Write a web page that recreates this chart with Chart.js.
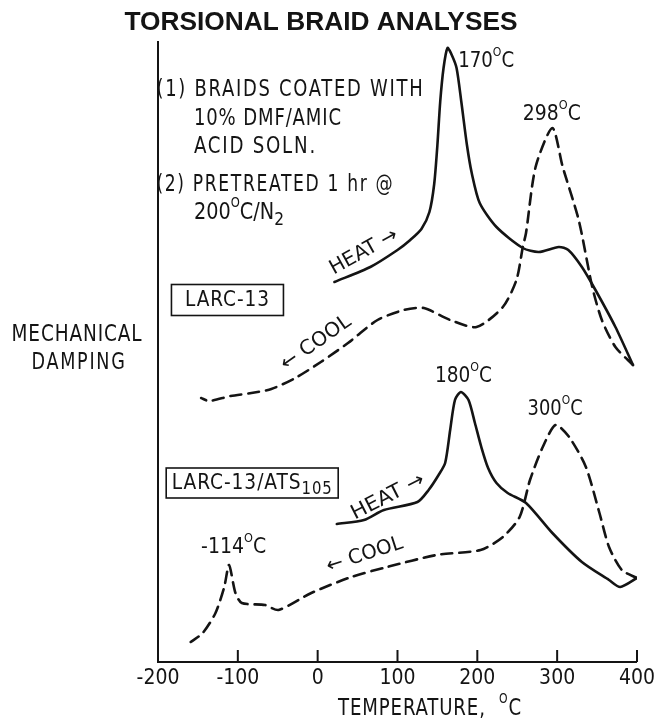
<!DOCTYPE html>
<html>
<head>
<meta charset="utf-8">
<script src="https://cdn.jsdelivr.net/npm/chart.js@4.4.1/dist/chart.umd.min.js"></script>
<style>
    html, body { margin: 0; padding: 0; background: #fff; }
    #wrap { width: 659px; height: 723px; position: relative; }
</style>
</head>
<body>
<div id="wrap"><canvas id="mychart"></canvas></div>
<script>
// temperature (deg C) and damping (arbitrary units)
var heat1Temp = [21, 66, 100, 116, 130, 140, 146, 150, 153.5, 157.7, 162.7, 168, 174, 180, 187, 193, 203, 224, 257, 277, 302, 314, 331, 348, 373, 395];
var heat1Damp = [380, 395, 412, 422, 433, 450, 478, 517, 560, 594, 614, 607, 594, 560, 517, 489, 459, 435, 414, 410, 415, 412, 395, 372, 335, 297];

var cool1Temp = [395, 373, 356, 344, 327, 307, 294, 273, 261, 257, 249, 232, 199, 166, 133, 108, 75, 38, 4, -28, -58, -83, -109, -136, -146];
var cool1Damp = [297, 315, 342, 375, 442, 495, 534, 495, 429, 415, 382, 355, 335, 342, 354, 352, 342, 319, 300, 284, 273, 269, 266, 261, 264];

var heat2Temp = [24, 58, 83, 125, 139, 151.5, 159.7, 166, 172, 179.5, 189, 197, 205, 213.5, 224, 238, 261, 294, 331, 365, 379, 400];
var heat2Damp = [138, 142, 152, 160, 172, 187, 199, 232, 262, 270, 262, 239, 215, 194, 179, 169, 159, 129, 100, 82, 75, 84];

var cool2Temp = [400, 381, 365, 353, 336, 315, 298, 282, 266, 253, 232, 204, 149, 87, 42, -8, -49, -66, -95, -103, -111, -117, -128, -144, -159];
var cool2Damp = [84, 92, 115, 149, 195, 225, 237, 215, 182, 145, 125, 112, 107, 95, 85, 69, 52, 57, 59, 69, 97, 75, 49, 29, 20];

var tempTicks = [-200, -100, 0, 100, 200, 300, 400];

const INK = '#141414';
const FONT = "'Liberation Sans Narrow', 'DejaVu Sans Condensed', 'Liberation Sans', sans-serif";
const TITLE_FONT = "'Liberation Sans', Arial, sans-serif";

// labels on the plot: x/y in data units, w = printed width in px
var notes = [
    { t: '(1) BRAIDS COATED WITH', x: -202, y: 572, w: 268, size: 23, sp: 2 },
    { t: '10% DMF/AMIC', x: -155, y: 543, w: 148, size: 23, sp: 1 },
    { t: 'ACID SOLN.', x: -155, y: 515, w: 123, size: 23, sp: 2 },
    { t: '(2) PRETREATED 1 hr @', x: -202, y: 477, w: 238, size: 23, sp: 2 },
    { t: '200^{O}C/N_{2}', x: -155, y: 449, w: 90, size: 23 },
    { t: '170^{O}C', x: 176, y: 600, w: 56, size: 21 },
    { t: '298^{O}C', x: 257, y: 547, w: 58, size: 21 },
    { t: '180^{O}C', x: 147, y: 285, w: 57, size: 21 },
    { t: '300^{O}C', x: 263, y: 252, w: 55, size: 21 },
    { t: '-114^{O}C', x: -146, y: 114, w: 65, size: 21 },
    { t: 'HEAT \u2192', x: 58, y: 410, w: 75, size: 20, rot: -29, center: true },
    { t: '\u2190 COOL', x: -2, y: 319, w: 81, size: 20, rot: -35, center: true },
    { t: 'HEAT \u2192', x: 88, y: 165, w: 80, size: 20, rot: -27, center: true },
    { t: '\u2190 COOL', x: 59, y: 107, w: 79, size: 20, rot: -18, center: true }
];

var boxes = [
    { t: 'LARC-13', x: -113, y: 362, w: 112, h: 31, tw: 85, size: 22 },
    { t: 'LARC-13/ATS_{105}', x: -82, y: 179, w: 172, h: 30, tw: 161, size: 22 }
];

function pts(xs, ys) {
    return xs.map((v, i) => ({ x: v, y: ys[i] }));
}

function parseRich(str) {
    return str.split(/(\^\{[^}]*\}|_\{[^}]*\})/).filter(Boolean).map(p => {
        if (p[0] === '^') return { t: p.slice(2, -1), dy: -0.42, k: 0.6 };
        if (p[0] === '_') return { t: p.slice(2, -1), dy: 0.3, k: 0.8 };
        return { t: p, dy: 0, k: 1 };
    });
}

// draws text at the current origin, stretched to the given width
function drawRich(ctx, str, size, width, center, weight, spacing, family) {
    const segs = parseRich(str);
    const fam = family || FONT;
    ctx.letterSpacing = (spacing || 0) + 'px';
    let total = 0;
    segs.forEach(s => {
        ctx.font = (weight || '') + ' ' + (size * s.k) + 'px ' + fam;
        s.w = ctx.measureText(s.t).width;
        total += s.w;
    });
    ctx.save();
    ctx.scale(width ? width / total : 1, 1);
    let cx = center ? -total / 2 : 0;
    segs.forEach(s => {
        ctx.font = (weight || '') + ' ' + (size * s.k) + 'px ' + fam;
        ctx.fillText(s.t, cx, s.dy * size);
        cx += s.w;
    });
    ctx.restore();
    ctx.letterSpacing = '0px';
}

const paperText = {
    id: 'paperText',
    afterDraw(chart) {
        const ctx = chart.ctx;
        const xs = chart.scales.x, ys = chart.scales.y;
        ctx.save();
        ctx.fillStyle = INK;
        ctx.strokeStyle = INK;
        ctx.textBaseline = 'middle';

        // tick marks stand up from the axis
        ctx.lineWidth = 2;
        xs.ticks.forEach(t => {
            if (t.value === xs.min) return;
            const px = xs.getPixelForValue(t.value);
            ctx.beginPath();
            ctx.moveTo(px, ys.bottom);
            ctx.lineTo(px, ys.bottom - 12);
            ctx.stroke();
        });

        // title
        ctx.save();
        ctx.translate(321, 23);
        drawRich(ctx, 'TORSIONAL BRAID ANALYSES', 26, 393, true, 'bold', 0, TITLE_FONT);
        ctx.restore();

        // axis titles
        ctx.save();
        ctx.translate(77, 335);
        drawRich(ctx, 'MECHANICAL', 23, 131, true, '', 1);
        ctx.restore();
        ctx.save();
        ctx.translate(79, 363);
        drawRich(ctx, 'DAMPING', 23, 95, true, '', 2);
        ctx.restore();
        ctx.save();
        ctx.translate(338, 709);
        drawRich(ctx, 'TEMPERATURE,  ^{O}C', 23, 184, false, '', 1);
        ctx.restore();

        notes.forEach(n => {
            ctx.save();
            ctx.translate(xs.getPixelForValue(n.x), ys.getPixelForValue(n.y));
            if (n.rot) ctx.rotate(n.rot * Math.PI / 180);
            drawRich(ctx, n.t, n.size, n.w, n.center, '', n.sp);
            ctx.restore();
        });

        ctx.lineWidth = 1.6;
        boxes.forEach(b => {
            const cx = xs.getPixelForValue(b.x), cy = ys.getPixelForValue(b.y);
            ctx.strokeRect(cx - b.w / 2, cy - b.h / 2, b.w, b.h);
            ctx.save();
            ctx.translate(cx, cy);
            drawRich(ctx, b.t, b.size, b.tw, true, '', 1);
            ctx.restore();
        });
        ctx.restore();
    }
};

const lineStyle = {
    showLine: true,
    pointRadius: 0,
    borderColor: INK,
    borderWidth: 2.6,
    tension: 0.25,
    fill: false,
    borderCapStyle: 'round',
    borderJoinStyle: 'round'
};

var myChart = new Chart(document.getElementById('mychart'), {
    type: 'scatter',
    data: {
        datasets: [
            Object.assign({ label: 'LARC-13 heat', data: pts(heat1Temp, heat1Damp) }, lineStyle),
            Object.assign({ label: 'LARC-13 cool', data: pts(cool1Temp, cool1Damp), borderDash: [11, 7] }, lineStyle),
            Object.assign({ label: 'LARC-13/ATS105 heat', data: pts(heat2Temp, heat2Damp) }, lineStyle),
            Object.assign({ label: 'LARC-13/ATS105 cool', data: pts(cool2Temp, cool2Damp), borderDash: [11, 7] }, lineStyle)
        ]
    },
    options: {
        responsive: true,
        maintainAspectRatio: false,
        animation: false,
        layout: { padding: { left: 158, right: 17, top: 42, bottom: 0 } },
        plugins: {
            legend: { display: false },
            tooltip: { enabled: false }
        },
        scales: {
            x: {
                type: 'linear',
                min: tempTicks[0],
                max: tempTicks[tempTicks.length - 1],
                afterBuildTicks: s => { s.ticks = tempTicks.map(v => ({ value: v })); },
                afterFit: s => { s.height = 61; },
                ticks: { color: INK, padding: 4, font: { family: FONT, size: 21 } },
                grid: { display: false, drawTicks: false },
                border: { display: true, color: INK, width: 2 }
            },
            y: {
                min: 0,
                max: 620,
                afterFit: s => { s.width = 0; },
                ticks: { display: false },
                grid: { display: false, drawTicks: false },
                border: { display: true, color: INK, width: 2 }
            }
        }
    },
    plugins: [paperText]
});
</script>
</body>
</html>
